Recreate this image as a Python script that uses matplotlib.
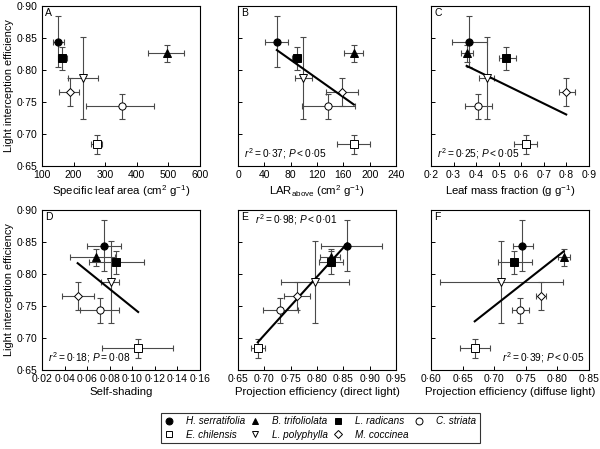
import numpy as np
import matplotlib
matplotlib.use("Agg")
import matplotlib.pyplot as plt
from matplotlib.ticker import FuncFormatter
from matplotlib.lines import Line2D

plt.rcParams['font.family'] = ['Liberation Sans', 'DejaVu Sans']
plt.rcParams['mathtext.fontset'] = 'custom'
plt.rcParams['mathtext.rm'] = 'Liberation Sans'
plt.rcParams['mathtext.it'] = 'Liberation Sans:italic'

# species order: H. serratifolia, B. trifoliolata, L. radicans, C. striata,
# E. chilensis, L. polyphylla, M. coccinea
species = ['H. serratifolia', 'B. trifoliolata', 'L. radicans', 'C. striata',
           'E. chilensis', 'L. polyphylla', 'M. coccinea']
markers = ['o', '^', 's', 'o', 's', 'v', 'D']
filled = [True, True, True, False, False, False, False]

# light interception efficiency (y in every panel)
lie = [0.844, 0.826, 0.818, 0.743, 0.684, 0.787, 0.766]
lie_lo = [0.805, 0.813, 0.800, 0.723, 0.668, 0.723, 0.744]
lie_hi = [0.885, 0.839, 0.836, 0.763, 0.699, 0.852, 0.787]

sla = [152, 495, 164, 352, 274, 229, 189]
sla_lo = [135, 436, 150, 239, 255, 182, 153]
sla_hi = [171, 548, 179, 454, 291, 276, 218]

lar = [59, 176, 89, 137, 176, 99, 158]
lar_lo = [41, 161, 82, 97, 151, 86, 134]
lar_hi = [76, 190, 96, 177, 201, 112, 182]

lmf = [0.368, 0.358, 0.534, 0.409, 0.620, 0.446, 0.799]
lmf_lo = [0.291, 0.333, 0.500, 0.350, 0.568, 0.414, 0.766]
lmf_hi = [0.446, 0.384, 0.576, 0.471, 0.670, 0.480, 0.836]

shade = [0.0745, 0.0677, 0.0859, 0.0713, 0.1052, 0.0809, 0.0516]
shade_lo = [0.0595, 0.0452, 0.0620, 0.0540, 0.0736, 0.0721, 0.0379]
shade_hi = [0.0897, 0.0850, 0.1108, 0.0882, 0.1365, 0.0882, 0.0657]

direct = [0.8575, 0.827, 0.827, 0.730, 0.6875, 0.797, 0.7625]
direct_lo = [0.808, 0.806, 0.804, 0.697, 0.675, 0.731, 0.7375]
direct_hi = [0.924, 0.844, 0.850, 0.764, 0.702, 0.861, 0.7875]

diffuse = [0.7447, 0.810, 0.7316, 0.741, 0.6692, 0.7111, 0.7735]
diffuse_lo = [0.7295, 0.801, 0.7053, 0.728, 0.6456, 0.614, 0.7656]
diffuse_hi = [0.761, 0.8196, 0.7593, 0.7557, 0.6938, 0.809, 0.7819]

yticks = [0.65, 0.70, 0.75, 0.80, 0.85, 0.90]


def dot_fmt(nd):
    return FuncFormatter(lambda v, p: ('%.*f' % (nd, v)).replace('.', '\u00b7'))


panels = [
    dict(letter='A', x=sla, lo=sla_lo, hi=sla_hi, xlim=(100, 600),
         ticks=np.arange(100, 601, 100), nd=0,
         xlabel='Specific leaf area (cm$^2$ g$^{-1}$)', fit=False),
    dict(letter='B', x=lar, lo=lar_lo, hi=lar_hi, xlim=(0, 240),
         ticks=np.arange(0, 241, 40), nd=0,
         xlabel='LAR$_{\\rm above}$ (cm$^2$ g$^{-1}$)', fit=True,
         stat=('0\u00b737', '<', '0\u00b705'), spos='bl'),
    dict(letter='C', x=lmf, lo=lmf_lo, hi=lmf_hi, xlim=(0.2, 0.9),
         ticks=np.arange(0.2, 0.91, 0.1), nd=1,
         xlabel='Leaf mass fraction (g g$^{-1}$)', fit=True,
         stat=('0\u00b725', '<', '0\u00b705'), spos='bl'),
    dict(letter='D', x=shade, lo=shade_lo, hi=shade_hi, xlim=(0.02, 0.16),
         ticks=np.arange(0.02, 0.161, 0.02), nd=2,
         xlabel='Self-shading', fit=True,
         stat=('0\u00b718', '=', '0\u00b708'), spos='bl'),
    dict(letter='E', x=direct, lo=direct_lo, hi=direct_hi, xlim=(0.65, 0.95),
         ticks=np.arange(0.65, 0.951, 0.05), nd=2,
         xlabel='Projection efficiency (direct light)', fit=True,
         stat=('0\u00b798', '<', '0\u00b701'), spos='tl'),
    dict(letter='F', x=diffuse, lo=diffuse_lo, hi=diffuse_hi, xlim=(0.60, 0.85),
         ticks=np.arange(0.60, 0.851, 0.05), nd=2,
         xlabel='Projection efficiency (diffuse light)', fit=True,
         stat=('0\u00b739', '<', '0\u00b705'), spos='br'),
]

W, H = 600, 449
fig = plt.figure(figsize=(6, 4.49), dpi=100)
lefts = [42, 238, 431]
tops = [6, 210]
pw, ph = 158, 160

y = np.array(lie)
ylo = y - np.array(lie_lo)
yhi = np.array(lie_hi) - y

for i, p in enumerate(panels):
    r, c = divmod(i, 3)
    ax = fig.add_axes([lefts[c] / W, 1 - (tops[r] + ph) / H, pw / W, ph / H])
    x = np.array(p['x'], dtype=float)
    xlo = x - np.array(p['lo'])
    xhi = np.array(p['hi']) - x
    ax.errorbar(x, y, xerr=[xlo, xhi], yerr=[ylo, yhi], fmt='none',
                ecolor='#4a4a4a', elinewidth=0.8, capsize=2.5, capthick=0.8,
                zorder=2)
    if p['fit']:
        k, b = np.polyfit(x, y, 1)
        xx = np.array([x.min(), x.max()])
        ax.plot(xx, k * xx + b, color='black', lw=1.5, zorder=3)
    for j in range(len(species)):
        ax.plot(x[j], y[j], marker=markers[j], ms=5.2 if markers[j] != 'D' else 4.5,
                mfc='black' if filled[j] else 'white', mec='black', mew=0.7,
                ls='none', zorder=4)
    ax.set_xlim(*p['xlim'])
    ax.set_ylim(0.65, 0.90)
    ax.set_xticks(p['ticks'])
    ax.set_yticks(yticks)
    ax.xaxis.set_major_formatter(dot_fmt(p['nd']))
    ax.yaxis.set_major_formatter(dot_fmt(2))
    ax.tick_params(direction='in', length=3, width=0.7, labelsize=7.5, pad=3)
    for s in ax.spines.values():
        s.set_linewidth(0.8)
    if c != 0:
        ax.set_yticklabels([])
    else:
        ax.set_ylabel('Light interception efficiency', fontsize=7.8, labelpad=2)
    ax.set_xlabel(p['xlabel'], fontsize=8.2, labelpad=2)
    ax.text(0.02, 0.985, p['letter'], transform=ax.transAxes, ha='left',
            va='top', fontsize=7.5)
    if p['fit']:
        r2, op, pv = p['stat']
        s = '$r^2$\u2009%s\u2009%s; $P$\u2009%s\u2009%s' % ('=', r2, op, pv)
        if p['spos'] == 'bl':
            ax.text(0.04, 0.03, s, transform=ax.transAxes, ha='left',
                    va='bottom', fontsize=7.3)
        elif p['spos'] == 'br':
            ax.text(0.97, 0.03, s, transform=ax.transAxes, ha='right',
                    va='bottom', fontsize=7.3)
        else:
            ax.text(0.11, 0.985, s, transform=ax.transAxes, ha='left',
                    va='top', fontsize=7.3)

handles = [Line2D([], [], marker=markers[j], ls='none', ms=5 if markers[j] != 'D' else 4.5,
                  mfc='black' if filled[j] else 'white', mec='black', mew=0.7)
           for j in range(len(species))]
order = [0, 4, 1, 5, 2, 6, 3]
leg = fig.legend([handles[j] for j in order], [species[j] for j in order],
                 loc='center', bbox_to_anchor=(320 / W, 1 - 428 / H), ncol=4,
                 frameon=True, fancybox=False, edgecolor='black',
                 prop={'style': 'italic', 'size': 7.2}, handletextpad=1.2,
                 columnspacing=0.5, labelspacing=0.3, borderpad=0.35,
                 handlelength=1.0, borderaxespad=0)
leg.get_frame().set_linewidth(0.8)

fig.savefig('out.png', dpi=100)
